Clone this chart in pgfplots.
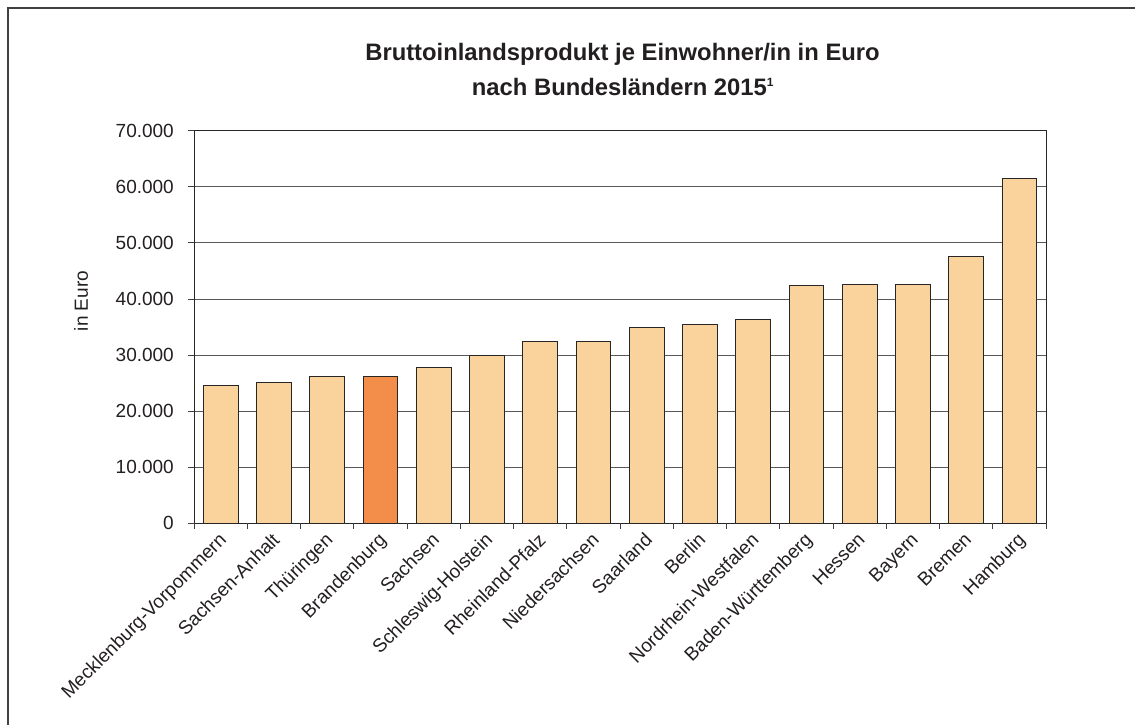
\documentclass[border=0pt]{standalone}
\usepackage{pgfplots}
\pgfplotsset{compat=1.18}
\usepackage{fontspec}
\setmainfont{Liberation Sans}
\definecolor{barlight}{HTML}{F9D29C}
\definecolor{barhi}{HTML}{F28E4A}
\definecolor{txt}{HTML}{231F20}
\begin{document}
\begin{tikzpicture}
\useasboundingbox (0,0) rectangle (1135bp,-725bp);
\draw[black!75, line width=1.2bp] (8bp,-726bp) -- (8bp,-8bp) -- (1136bp,-8bp);
\node[anchor=base, font=\fontsize{23.8bp}{28bp}\selectfont\bfseries, text=txt] at (622.5bp,-60bp) {Bruttoinlandsprodukt je Einwohner/in in Euro};
\node[anchor=base, font=\fontsize{23.8bp}{28bp}\selectfont\bfseries, text=txt] at (623bp,-95bp) {nach Bundesländern 2015\textsuperscript{\fontsize{12bp}{13bp}\selectfont 1}};
\begin{axis}[
  at={(194bp,-523.3bp)}, anchor=south west,
  scale only axis, width=852bp, height=392.6bp,
  xmin=-0.5, xmax=15.5, ymin=0, ymax=70000,
  clip=false,
  axis line style={black!85, line width=0.9bp},
  ytick={0,10000,...,70000},
  yticklabels={0,10.000,20.000,30.000,40.000,50.000,60.000,70.000},
  scaled y ticks=false,
  ymajorgrids, grid style={black!65, line width=0.9bp},
  xtick={0,...,15},
  xticklabels={Mecklenburg-Vorpommern,Sachsen-Anhalt,Thüringen,Brandenburg,Sachsen,Schleswig-Holstein,Rheinland-Pfalz,Niedersachsen,Saarland,Berlin,Nordrhein-Westfalen,Baden-Württemberg,Hessen,Bayern,Bremen,Hamburg},
  major tick length=0pt,
  tick label style={font=\fontsize{19bp}{22bp}\selectfont, text=txt},
  /pgf/number format/assume math mode=true,
  yticklabel style={anchor=east, inner sep=0pt, xshift=-20bp},
  xticklabel style={xshift=-3bp, yshift=-8bp, rotate=45, anchor=north east, inner sep=0pt},
  every axis y label/.style={at={(rel axis cs:0,0.566)}, rotate=90, anchor=center, yshift=113bp},
  ylabel={in Euro},
  ylabel style={font=\fontsize{19bp}{22bp}\selectfont, text=txt},
]
\addplot[ybar, bar width=0.652, fill=barlight, draw=black!85, line width=0.9bp] coordinates {
(0,24650) (1,25130) (2,26200) (4,27740) (5,29880) (6,32500) (7,32500) (8,34950) (9,35450) (10,36350) (11,42350) (12,42650) (13,42650) (14,47520) (15,61500)
};
\addplot[ybar, bar width=0.652, fill=barhi, draw=black!85, line width=0.9bp] coordinates {
(3,26200)
};
\pgfplotsinvokeforeach{-0.5,0.5,1.5,2.5,3.5,4.5,5.5,6.5,7.5,8.5,9.5,10.5,11.5,12.5,13.5,14.5,15.5}{
  \draw[black!75, line width=0.9bp] (axis cs:#1,0) -- ++(0pt,-6bp);
}
\pgfplotsinvokeforeach{0,10000,20000,30000,40000,50000,60000,70000}{
  \draw[black!75, line width=0.9bp] (axis cs:-0.5,#1) -- ++(-6bp,0pt);
}
\end{axis}
\end{tikzpicture}
\end{document}
